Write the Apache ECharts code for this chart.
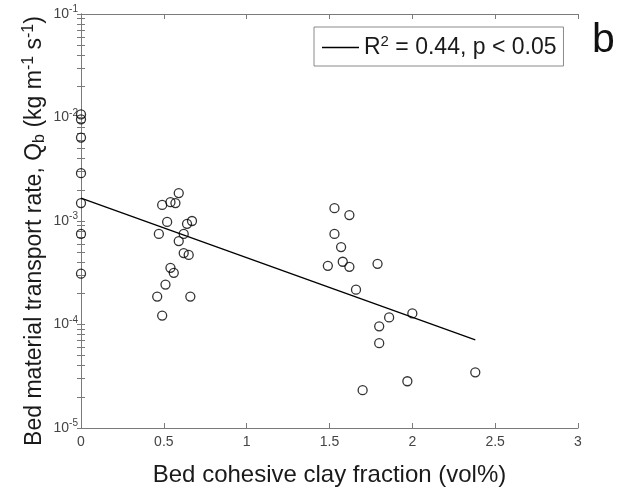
<!DOCTYPE html>
<html>
<head>
<meta charset="utf-8">
<script src="https://cdn.jsdelivr.net/npm/echarts@6/dist/echarts.min.js"></script>
<style>
html,body{margin:0;padding:0;background:#fff;}
#c{width:633px;height:492px;}
</style>
</head>
<body>
<div id="c"></div>
<script>
// ---- data ----
var clayFraction = [
  0, 0, 0, 0, 0, 0, 0,
  0.59, 0.49, 0.54, 0.57, 0.52, 0.47, 0.67, 0.64, 0.62, 0.59, 0.62, 0.65, 0.54, 0.56, 0.51, 0.46, 0.66, 0.49,
  1.53, 1.62, 1.53, 1.57, 1.49, 1.58, 1.62, 1.79, 1.66, 2.00, 1.86, 1.80, 1.80, 2.38, 1.97, 1.70
];
var transportRate = [
  1.07e-2, 9.6e-3, 6.4e-3, 2.9e-3, 1.49e-3, 7.5e-4, 3.1e-4,
  1.86e-3, 1.43e-3, 1.52e-3, 1.49e-3, 9.8e-4, 7.5e-4, 1.0e-3, 9.4e-4, 7.5e-4, 6.4e-4, 4.9e-4, 4.7e-4, 3.53e-4, 3.16e-4, 2.43e-4, 1.86e-4, 1.86e-4, 1.22e-4,
  1.33e-3, 1.14e-3, 7.5e-4, 5.6e-4, 3.69e-4, 4.04e-4, 3.61e-4, 3.86e-4, 2.17e-4, 1.28e-4, 1.17e-4, 9.6e-5, 6.6e-5, 3.45e-5, 2.83e-5, 2.32e-5
];
var fitX = [0, 2.38];
var fitY = [1.66e-3, 7.1e-5];
var xTicks = [0, 0.5, 1, 1.5, 2, 2.5, 3];
var yTicks = [1e-5, 1e-4, 1e-3, 1e-2, 1e-1];
var yMinorTicks = [];
[1e-5, 1e-4, 1e-3, 1e-2].forEach(function (d) {
  for (var k = 2; k <= 9; k++) yMinorTicks.push(+(d * k).toPrecision(3));
});
var legendLabel = 'R{sup|2} = 0.44, p < 0.05';
var panelLetter = 'b';

// ---- chart ----
var FONT = '"Liberation Sans", Arial, Helvetica, sans-serif';
var AX = '#7a7a7a';
var TXT = '#1a1a1a';
var chart = echarts.init(document.getElementById('c'), null, {renderer: 'canvas'});

function yLabel(v) {
  var e = Math.round(Math.log10(v));
  return '{b|10}{s|' + e + '}';
}
var yLabelRich = {
  b: {fontSize: 14, fontFamily: FONT, color: '#444'},
  s: {fontSize: 10, fontFamily: FONT, color: '#444', padding: [0, 0, 9, 0]}
};

var allYTicks = yTicks.concat(yMinorTicks);

var baseX = {
  type: 'value', min: xTicks[0], max: xTicks[xTicks.length - 1], interval: xTicks[1] - xTicks[0],
  splitLine: {show: false},
  axisLine: {show: true, lineStyle: {color: AX, width: 1}},
  axisTick: {show: true, inside: true, length: 5, lineStyle: {color: AX}}
};
var baseY = {
  type: 'log', logBase: 10, min: yTicks[0], max: yTicks[yTicks.length - 1],
  splitLine: {show: false},
  axisLine: {show: true, lineStyle: {color: AX, width: 1}},
  axisTick: {show: true, inside: true, length: 4, lineStyle: {color: AX}, customValues: allYTicks}
};

var option = {
  animation: false,
  backgroundColor: '#fff',
  grid: {left: 81, top: 14, width: 497, height: 416, containLabel: false},
  textStyle: {fontFamily: FONT},
  xAxis: [
    Object.assign({}, baseX, {
      position: 'bottom',
      axisLabel: {fontSize: 14, color: '#444', margin: 7, fontFamily: FONT},
      name: 'Bed cohesive clay fraction (vol%)', nameLocation: 'middle', nameGap: 35,
      nameMoveOverlap: false,
      nameTextStyle: {fontSize: 24, color: TXT, fontFamily: FONT}
    }),
    Object.assign({}, baseX, {position: 'top', axisLabel: {show: false}})
  ],
  yAxis: [
    Object.assign({}, baseY, {
      position: 'left',
      axisLabel: {formatter: yLabel, rich: yLabelRich, margin: 3, customValues: yTicks},
      name: 'Bed material transport rate, Q{sub|b} (kg m{sup|-1} s{sup|-1})',
      nameLocation: 'middle', nameGap: 32, nameRotate: 90,
      nameMoveOverlap: false,
      nameTextStyle: {
        fontSize: 23, color: TXT, fontFamily: FONT, padding: [0, 20, 0, 0],
        rich: {
          sub: {fontSize: 16, color: TXT, fontFamily: FONT, padding: [10, 0, 0, 0]},
          sup: {fontSize: 16, color: TXT, fontFamily: FONT, padding: [0, 0, 12, 0]}
        }
      }
    }),
    Object.assign({}, baseY, {position: 'right', axisLabel: {show: false}})
  ],
  legend: {
    show: true, left: 314, top: 27,
    data: [{name: 'fit', icon: 'rect'}],
    formatter: function () { return legendLabel; },
    orient: 'horizontal',
    padding: [7, 7, 6, 8],
    itemWidth: 37, itemHeight: 1.3,
    itemStyle: {color: '#000', borderWidth: 0},
    borderColor: '#8a8a8a', borderWidth: 1, backgroundColor: '#fff',
    textStyle: {
      fontSize: 23, color: TXT, fontFamily: FONT, lineHeight: 25,
      rich: {sup: {fontSize: 15, color: TXT, fontFamily: FONT, padding: [0, 0, 12, 0]}}
    }
  },
  graphic: [{
    type: 'text', left: 592, top: 20,
    style: {text: panelLetter, fontSize: 41, fontFamily: FONT, fill: '#111'}
  }],
  series: [
    {
      name: 'data', type: 'scatter', xAxisIndex: 0, yAxisIndex: 0,
      symbol: 'circle', symbolSize: 9,
      itemStyle: {color: 'rgba(0,0,0,0)', borderColor: '#000', borderWidth: 1.3},
      data: clayFraction.map(function (x, i) { return [x, transportRate[i]]; }),
      z: 3
    },
    {
      name: 'fit', type: 'line', xAxisIndex: 0, yAxisIndex: 0,
      symbol: 'none', showSymbol: false,
      lineStyle: {color: '#000', width: 1.3},
      itemStyle: {color: '#000'},
      data: fitX.map(function (x, i) { return [x, fitY[i]]; }),
      z: 2
    }
  ]
};
chart.setOption(option);
</script>
</body>
</html>
